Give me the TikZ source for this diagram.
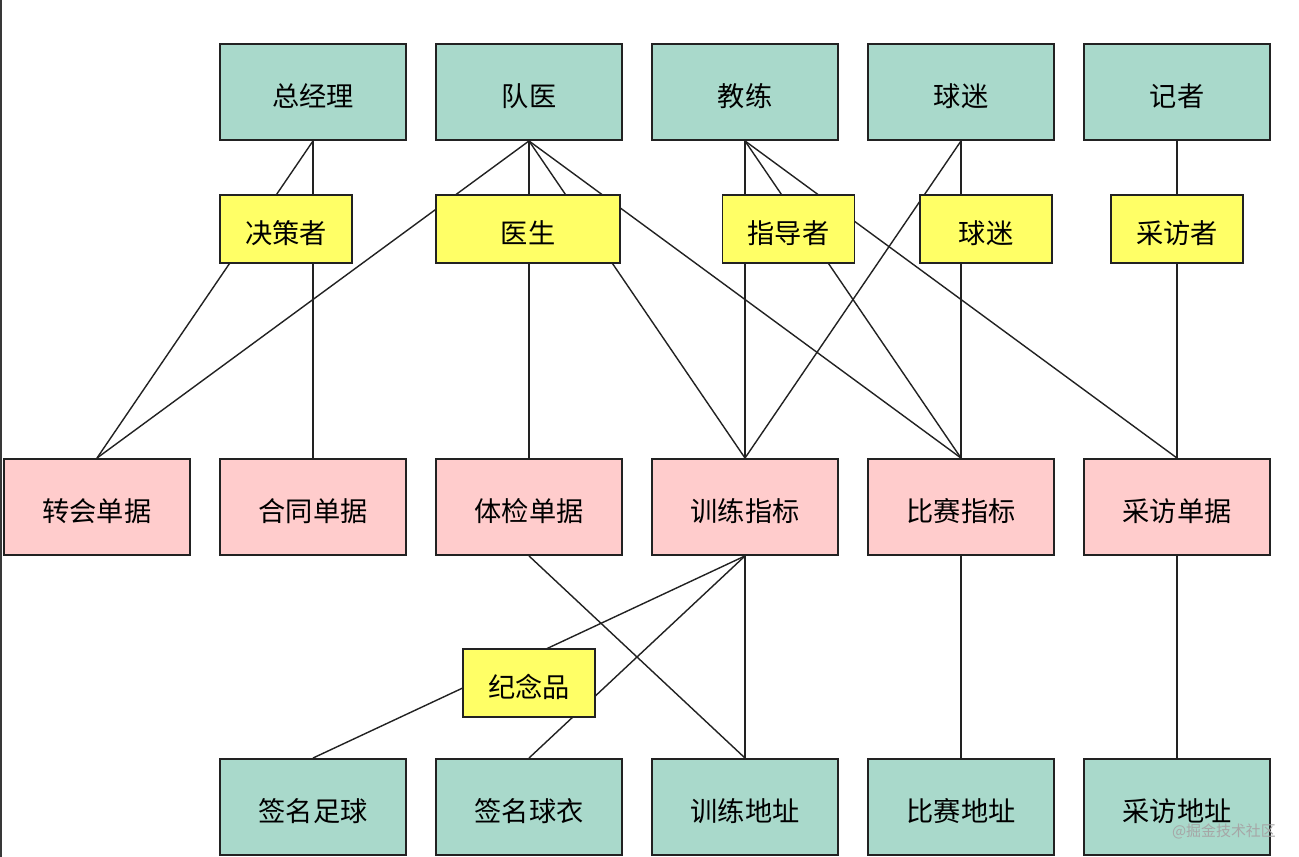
\documentclass[tikz,border=0pt]{standalone}
\usepackage{fontspec}
\setmainfont{Noto Sans CJK SC}
\usepackage{tikz}
\usetikzlibrary{positioning}

\definecolor{entgreen}{HTML}{A9D9CB}
\definecolor{billpink}{HTML}{FFCCCC}
\definecolor{rolelemon}{HTML}{FFFF66}
\definecolor{edgegray}{HTML}{222222}

\tikzset{
  boxtext/.style={font=\fontsize{15.5}{18}\selectfont, text height=1.75em, text depth=0.1em},
  entity/.style={draw=edgegray, line width=1.1pt, fill=entgreen, minimum width=3.72cm, minimum height=1.92cm, inner sep=0pt, boxtext},
  bill/.style={entity, fill=billpink},
  role/.style={draw=edgegray, line width=1.1pt, fill=rolelemon, minimum width=2.64cm, minimum height=1.36cm, inner sep=0pt, boxtext},
  link/.style={edgegray, line width=0.8pt}
}

\begin{document}
\begin{tikzpicture}[x=0.02cm, y=-0.02cm]
\useasboundingbox (0,0) rectangle (1299,857);
\fill[white] (0,0) rectangle (1299,857);
\draw[edgegray!90, line width=1.4pt] (1,0) -- (1,857);

% Top row
\node[entity] (gm) at (313,92) {总经理};
\node[entity] (doc) at (529,92) {队医};
\node[entity] (coach) at (745,92) {教练};
\node[entity] (fan) at (961,92) {球迷};
\node[entity] (press) at (1177,92) {记者};

% Bills
\node[bill] (transfer) at (97,507) {转会单据};
\node[bill] (contract) at (313,507) {合同单据};
\node[bill] (checkup) at (529,507) {体检单据};
\node[bill] (trainidx) at (745,507) {训练指标};
\node[bill] (matchidx) at (961,507) {比赛指标};
\node[bill] (interview) at (1177,507) {采访单据};

% Bottom row
\node[entity] (ball) at (313,807) {签名足球};
\node[entity] (shirt) at (529,807) {签名球衣};
\node[entity] (trainaddr) at (745,807) {训练地址};
\node[entity] (matchaddr) at (961,807) {比赛地址};
\node[entity] (intaddr) at (1177,807) {采访地址};

% Links
\draw[link] (gm.south) -- (transfer.north);
\draw[link] (gm.south) -- (contract.north);
\draw[link] (doc.south) -- (transfer.north);
\draw[link] (doc.south) -- (checkup.north);
\draw[link] (doc.south) -- (trainidx.north);
\draw[link] (doc.south) -- (matchidx.north);
\draw[link] (coach.south) -- (trainidx.north);
\draw[link] (coach.south) -- (matchidx.north);
\draw[link] (coach.south) -- (interview.north);
\draw[link] (fan.south) -- (trainidx.north);
\draw[link] (fan.south) -- (matchidx.north);
\draw[link] (press.south) -- (interview.north);
\draw[link] (trainidx.south) -- (ball.north);
\draw[link] (trainidx.south) -- (shirt.north);
\draw[link] (trainidx.south) -- (trainaddr.north);
\draw[link] (checkup.south) -- (trainaddr.north);
\draw[link] (matchidx.south) -- (matchaddr.north);
\draw[link] (interview.south) -- (intaddr.north);

% Roles on top of the links
\node[role] (maker) at (286,229) {决策者};
\node[role, minimum width=3.68cm] (medic) at (528,229) {医生};
\node[role] (mentor) at (788.5,229) {指导者};
\node[role] (fanrole) at (986,229) {球迷};
\node[role] (reporter) at (1177,229) {采访者};
\node[role] (gift) at (529,683) {纪念品};

% Watermark
\node[gray!70, font=\fontsize{8.5}{9}\selectfont, anchor=east] (mark) at (1282,831) {@掘金技术社区};
\end{tikzpicture}
\end{document}
